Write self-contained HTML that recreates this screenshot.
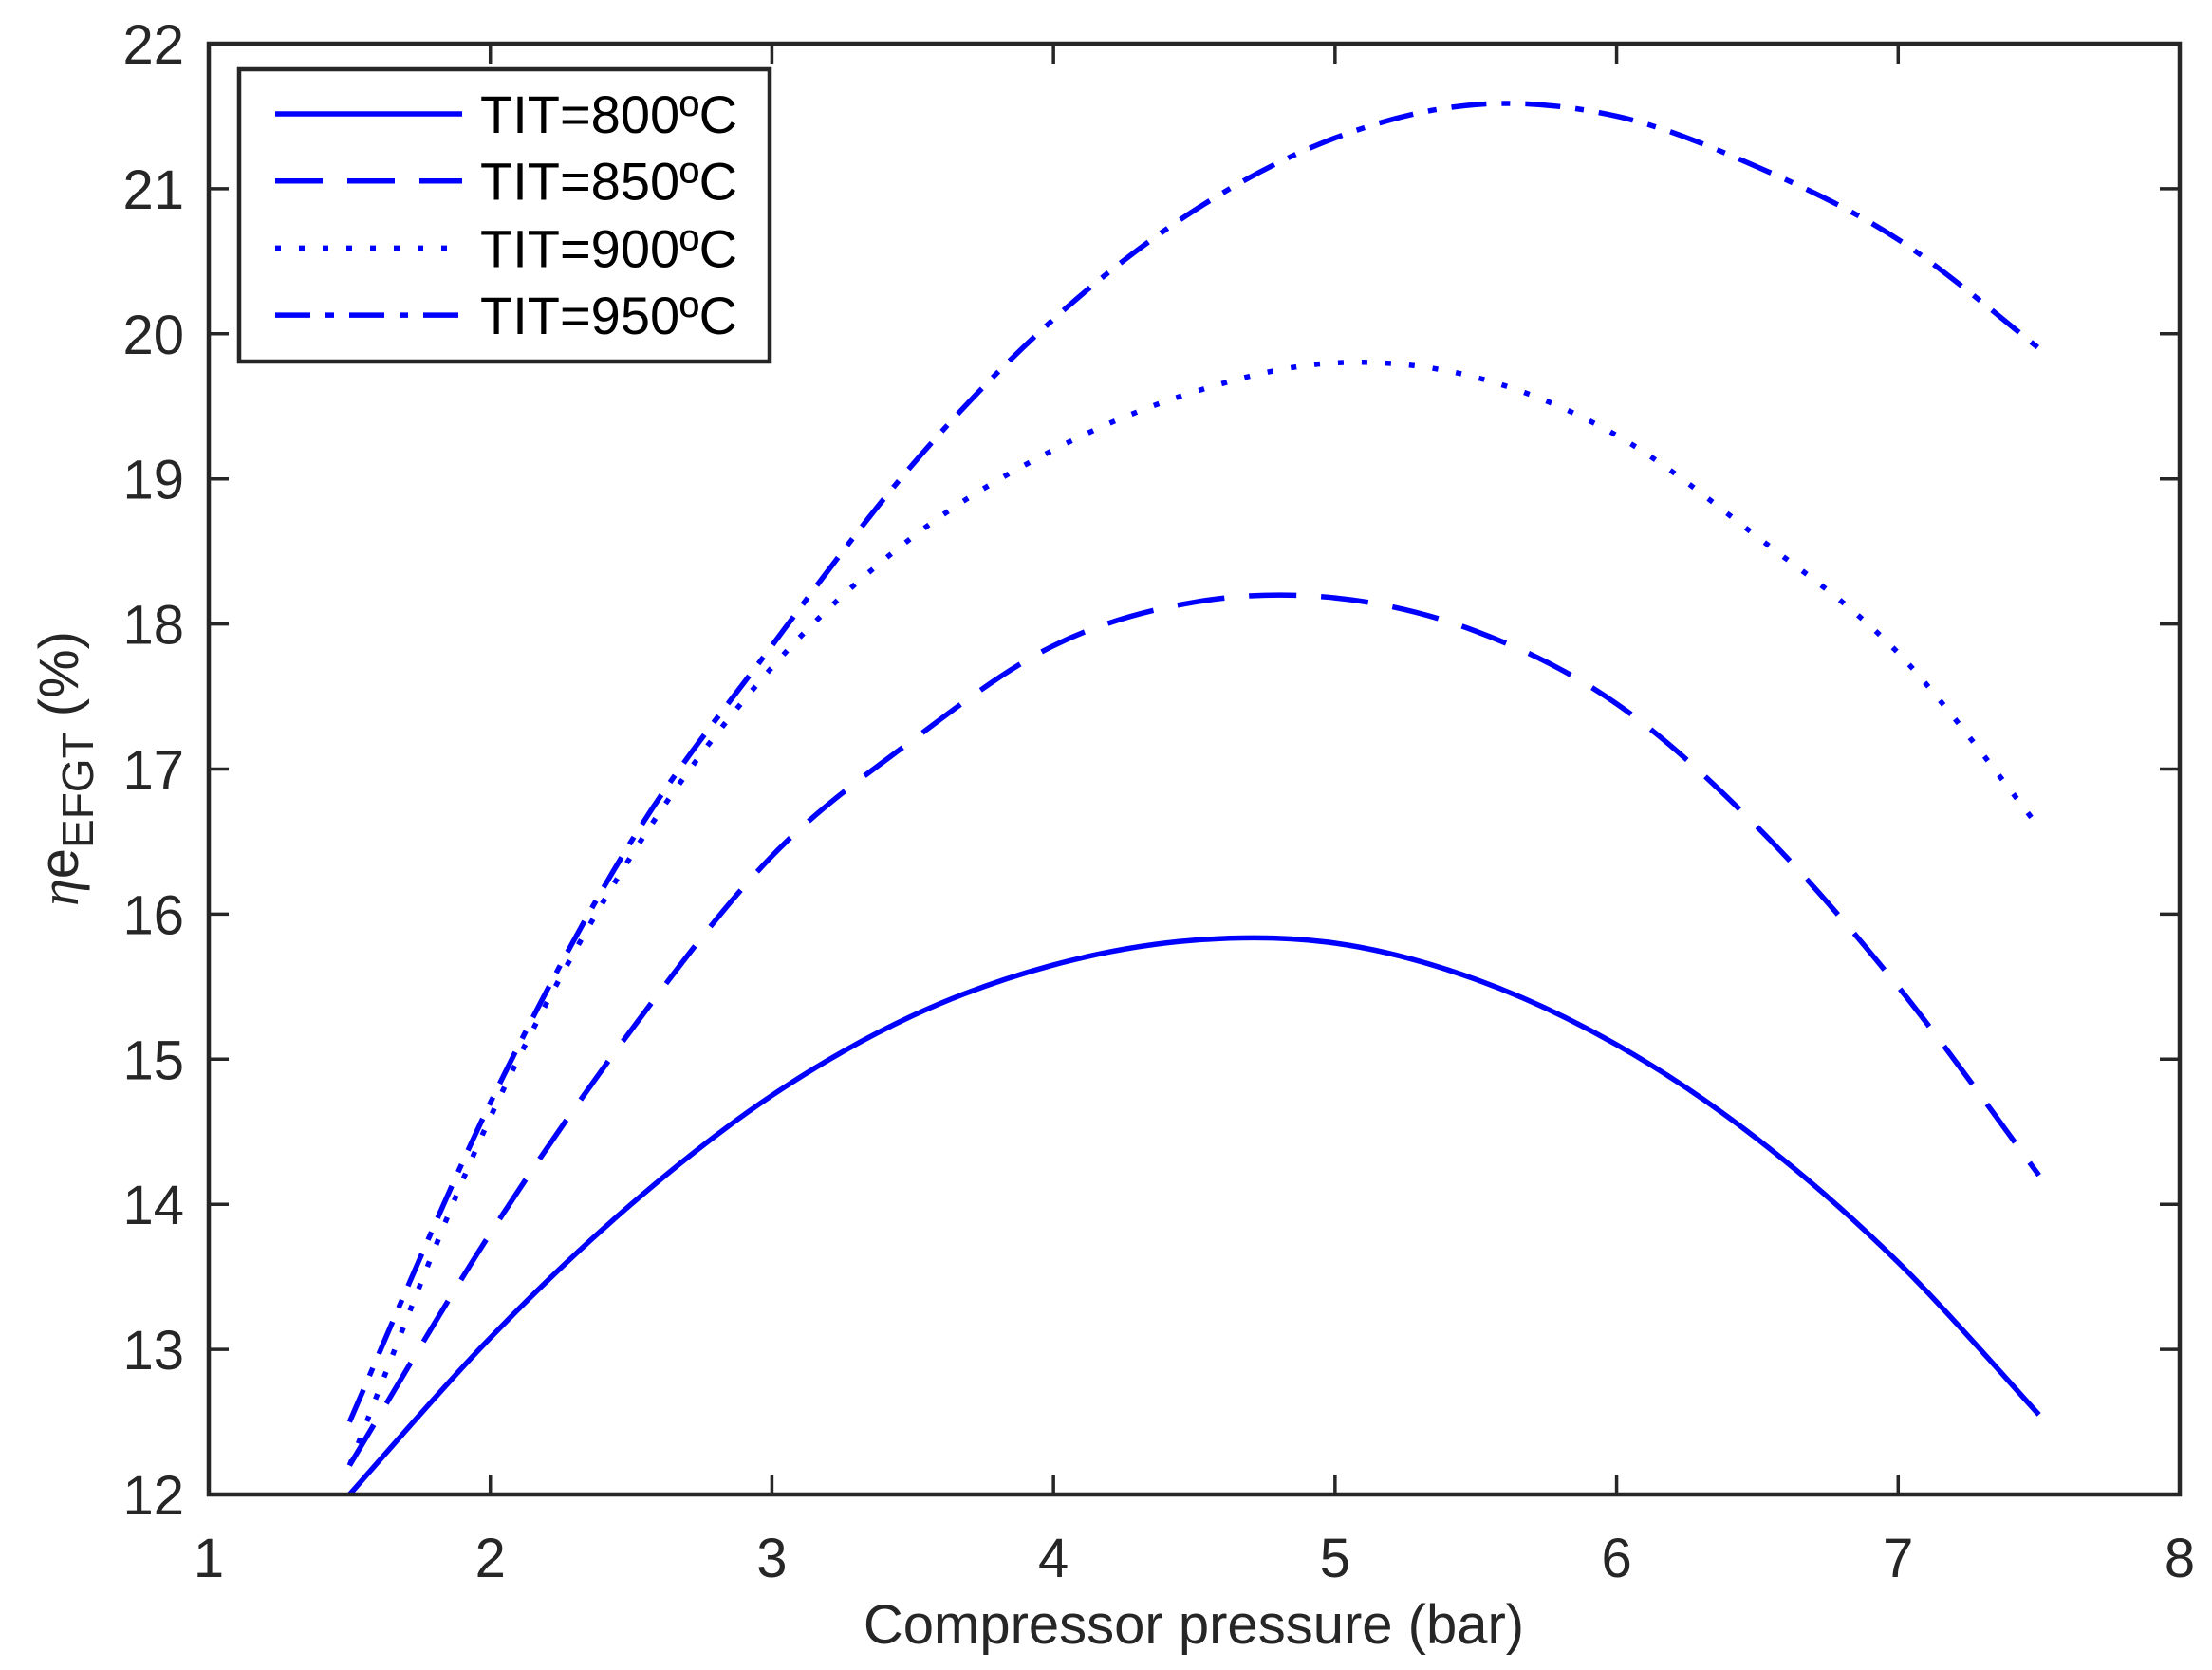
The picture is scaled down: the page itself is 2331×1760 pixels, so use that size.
<!DOCTYPE html>
<html><head><meta charset="utf-8"><style>
html,body{margin:0;padding:0;background:#fff}
svg{display:block;font-family:"Liberation Sans",Arial,sans-serif}
</style></head><body>
<svg id="chart" width="2331" height="1760" viewBox="0 0 2331 1760" xmlns="http://www.w3.org/2000/svg">
<rect width="2331" height="1760" fill="#fff"/>
<g id="plot"></g>
<g id="axes"></g>
<text x="1258" y="1732" font-size="58" fill="#262626" text-anchor="middle">Compressor pressure (bar)</text>
<text transform="translate(82,810) rotate(-90)" font-size="58" fill="#262626" text-anchor="middle"><tspan font-family="'Liberation Serif',serif" font-style="italic">η</tspan>e<tspan font-size="46" dy="16">EFGT</tspan><tspan dy="-16"> (%)</tspan></text>
<g id="legend">
<rect x="252" y="73" width="559" height="308" fill="#fff" stroke="#262626" stroke-width="4.5"/>
</g>
</svg>
<script>
const xValues=[1.5,2,2.5,3,3.5,4,4.5,5,5.5,6,6.5,7,7.5];
const tit800=[12.0,13.08,14.0,14.75,15.3,15.65,15.82,15.8,15.55,15.1,14.45,13.6,12.55];
const tit850=[12.2,13.8,15.2,16.4,17.2,17.85,18.15,18.18,17.95,17.45,16.6,15.5,14.2];
const tit900=[12.2,14.6,16.4,17.7,18.6,19.2,19.6,19.8,19.7,19.3,18.6,17.8,16.6];
const tit950=[12.5,14.7,16.5,17.85,19.1,20.1,20.85,21.35,21.58,21.5,21.15,20.65,19.9];
const seriesNames=["TIT=800ºC","TIT=850ºC","TIT=900ºC","TIT=950ºC"];
const xTicks=[1,2,3,4,5,6,7,8];
const yTicks=[12,13,14,15,16,17,18,19,20,21,22];

const L=220,R=2297,T=46,B=1575;
const sx=v=>L+(v-1)/(8-1)*(R-L);
const sy=v=>B-(v-12)/(22-12)*(B-T);
const NS="http://www.w3.org/2000/svg";
const plot=document.getElementById('plot'),axes=document.getElementById('axes'),legend=document.getElementById('legend');
function mk(tag,attrs,parent){const e=document.createElementNS(NS,tag);for(const k in attrs)e.setAttribute(k,attrs[k]);parent.appendChild(e);return e;}
const dashes=["none","50 26","6 19","37 16 9 16"];
const allSeries=[tit800,tit850,tit900,tit950];
function pathFor(ys){
  const p=xValues.map((x,i)=>[sx(x),sy(ys[i])]);
  let d=`M${p[0][0]},${p[0][1]}`;
  for(let i=0;i<p.length-1;i++){
    const p0=p[Math.max(0,i-1)],p1=p[i],p2=p[i+1],p3=p[Math.min(p.length-1,i+2)];
    const c1=[p1[0]+(p2[0]-p0[0])/6,p1[1]+(p2[1]-p0[1])/6];
    const c2=[p2[0]-(p3[0]-p1[0])/6,p2[1]-(p3[1]-p1[1])/6];
    d+=`C${c1[0]},${c1[1]} ${c2[0]},${c2[1]} ${p2[0]},${p2[1]}`;
  }
  return d;
}
allSeries.forEach((ys,i)=>{
  const el=mk('path',{d:pathFor(ys),fill:'none',stroke:'#0000ff','stroke-width':5.5,'stroke-dasharray':dashes[i]},plot);
  
  
});
const box=mk('rect',{x:L,y:T,width:R-L,height:B-T,fill:'none',stroke:'#262626','stroke-width':4.5},axes);


xTicks.forEach(v=>{
  const x=sx(v);
  mk('line',{x1:x,y1:B,x2:x,y2:B-21,stroke:'#262626','stroke-width':3.5},axes);
  mk('line',{x1:x,y1:T,x2:x,y2:T+21,stroke:'#262626','stroke-width':3.5},axes);
  const t=mk('text',{x:x,y:1662,'font-size':58,fill:'#262626','text-anchor':'middle'},axes);
  t.textContent=v;
  
  
});
yTicks.forEach(v=>{
  const y=sy(v);
  mk('line',{x1:L,y1:y,x2:L+21,y2:y,stroke:'#262626','stroke-width':3.5},axes);
  mk('line',{x1:R,y1:y,x2:R-21,y2:y,stroke:'#262626','stroke-width':3.5},axes);
  const t=mk('text',{x:194,y:y+21,'font-size':58,fill:'#262626','text-anchor':'end'},axes);
  t.textContent=v;
  
  
});
seriesNames.forEach((n,i)=>{
  const y=120+i*70.7;
  const g=mk('g',{},legend);
  
  
  mk('line',{x1:290,y1:y,x2:487,y2:y,stroke:'#0000ff','stroke-width':5.5,'stroke-dasharray':dashes[i]},g);
  const t=mk('text',{x:506,y:y+20,'font-size':56,fill:'#000'},g);
  t.textContent=n;
});
</script>
</body></html>
